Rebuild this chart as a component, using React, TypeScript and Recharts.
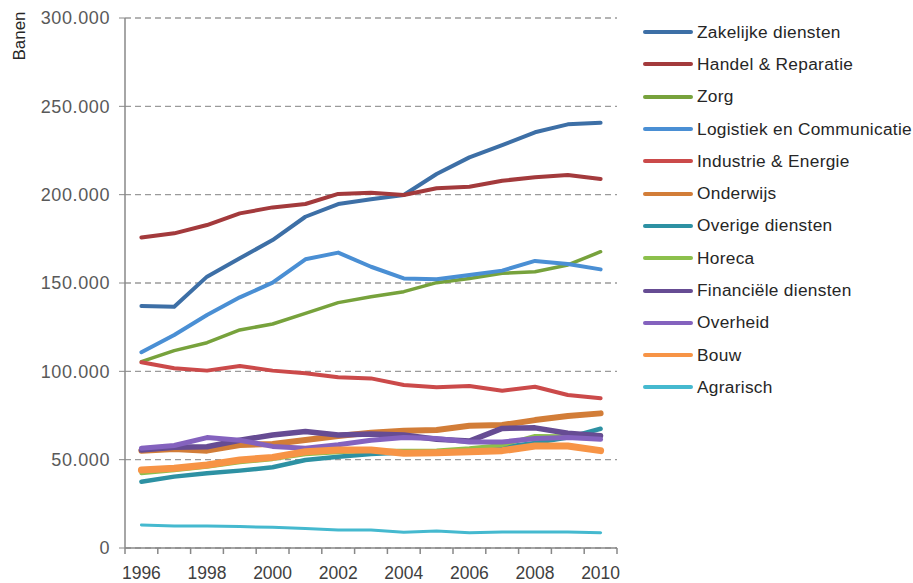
import { LineChart, Line, XAxis, YAxis, CartesianGrid } from 'recharts'

const years = [1996, 1997, 1998, 1999, 2000, 2001, 2002, 2003, 2004, 2005, 2006, 2007, 2008, 2009, 2010]

const zakelijke = [137000, 136600, 153600, 164000, 174300, 187500, 194700, 197400, 199800, 211700, 221100, 228000, 235300, 239800, 240700]
const handel = [175800, 178100, 182800, 189400, 192800, 194700, 200400, 201100, 199800, 203600, 204500, 207900, 209800, 211100, 208900]
const zorg = [105500, 111700, 116200, 123400, 126800, 132800, 138900, 142200, 145100, 150200, 152600, 155500, 156400, 160200, 167700]
const logistiek = [110800, 120600, 131900, 141900, 150200, 163400, 167200, 159200, 152600, 152100, 154500, 157000, 162500, 160800, 157700]
const industrie = [105100, 101700, 100400, 103000, 100400, 98900, 96600, 96000, 92300, 91000, 91700, 89000, 91300, 86600, 84700]
const onderwijs = [55100, 56000, 55100, 58300, 58900, 61100, 63400, 65300, 66400, 66800, 69200, 69600, 72400, 74700, 76200]
const overige = [37500, 40400, 42300, 43800, 45700, 49800, 51700, 53200, 54000, 54500, 55500, 57000, 59500, 62500, 67500]
const horeca = [42300, 44000, 46000, 48500, 50300, 53000, 54200, 55000, 55000, 55200, 56400, 58300, 63400, 63200, 64000]
const financiele = [55500, 57000, 57300, 61000, 64000, 66000, 64000, 64500, 64000, 61500, 60500, 67700, 68000, 65000, 63500]
const overheid = [56500, 58000, 62500, 61000, 57500, 56500, 58500, 61000, 62500, 62000, 60000, 60000, 62000, 62500, 61500]
const bouw = [44100, 45100, 47000, 49800, 51300, 54500, 55500, 55500, 53600, 53900, 54500, 55100, 57700, 57700, 55100]
const agrarisch = [13000, 12500, 12500, 12100, 11700, 11100, 10200, 10200, 8900, 9600, 8700, 9000, 9000, 9000, 8700]

const yTicks = [0, 50000, 100000, 150000, 200000, 250000, 300000]
const xLabelYears = [1996, 1998, 2000, 2002, 2004, 2006, 2008, 2010]

const series = [
  { key: 'zakelijke', name: 'Zakelijke diensten', values: zakelijke, color: '#3d6fa6', width: 4 },
  { key: 'handel', name: 'Handel & Reparatie', values: handel, color: '#a33a3c', width: 4 },
  { key: 'zorg', name: 'Zorg', values: zorg, color: '#77a23c', width: 3.5 },
  { key: 'logistiek', name: 'Logistiek en Communicatie', values: logistiek, color: '#4a8fd4', width: 4 },
  { key: 'industrie', name: 'Industrie & Energie', values: industrie, color: '#cb4a4a', width: 4 },
  { key: 'onderwijs', name: 'Onderwijs', values: onderwijs, color: '#d27d38', width: 6 },
  { key: 'overige', name: 'Overige diensten', values: overige, color: '#2d91a3', width: 4.5 },
  { key: 'horeca', name: 'Horeca', values: horeca, color: '#8cc04c', width: 4 },
  { key: 'financiele', name: 'Financiële diensten', values: financiele, color: '#664c93', width: 5.5 },
  { key: 'overheid', name: 'Overheid', values: overheid, color: '#8462be', width: 5 },
  { key: 'bouw', name: 'Bouw', values: bouw, color: '#f79446', width: 7 },
  { key: 'agrarisch', name: 'Agrarisch', values: agrarisch, color: '#45b9cf', width: 3 },
]

const data = years.map((year, i) => {
  const row: Record<string, number> = { year }
  series.forEach((s) => {
    row[s.key] = s.values[i]
  })
  return row
})

// tick marks sit between the years, labels on every other year
const xTicks: number[] = []
years.forEach((y) => {
  xTicks.push(y - 0.5)
  if (xLabelYears.includes(y)) xTicks.push(y)
})
xTicks.push(2010.5)

const FONT = '"Liberation Sans", Arial, sans-serif'

function formatThousands(v: number) {
  return String(v).replace(/\B(?=(\d{3})+(?!\d))/g, '.')
}

function XTick(props: any) {
  const { x, y, payload } = props
  const v = payload.value as number
  if (v % 1 !== 0) {
    return <line x1={x} x2={x} y1={y} y2={y + 6} stroke="#888" strokeWidth={1.5} />
  }
  return (
    <text x={x} y={y + 31} textAnchor="middle" fontSize={17.5} fontFamily={FONT} fill="#404040">
      {v}
    </text>
  )
}

function LegendList() {
  return (
    <div
      style={{
        position: 'absolute',
        left: 643,
        top: 16,
        fontFamily: FONT,
        fontSize: 17.3,
        letterSpacing: 0.3,
        color: '#262626',
      }}
    >
      {series.map((s) => (
        <div key={s.key} style={{ display: 'flex', alignItems: 'center', height: 32.3 }}>
          <svg width={50} height={8} style={{ marginRight: 4 }}>
            <line x1={2} x2={48} y1={4} y2={4} stroke={s.color} strokeWidth={4} strokeLinecap="round" />
          </svg>
          <span>{s.name}</span>
        </div>
      ))}
    </div>
  )
}

export default function App() {
  return (
    <div style={{ position: 'absolute', left: 0, top: 0, width: 913, height: 583, background: '#fff' }}>
      <div
        style={{
          position: 'absolute',
          left: 20,
          top: 36,
          transform: 'translate(-50%, -50%) rotate(-90deg)',
          fontFamily: FONT,
          fontSize: 17,
          color: '#262626',
          whiteSpace: 'nowrap',
        }}
      >
        Banen
      </div>
      <LineChart width={913} height={583} data={data} margin={{ top: 18, right: 296, bottom: 0, left: 0 }}>
        <CartesianGrid vertical={false} stroke="#9a9a9a" strokeDasharray="6 4" strokeWidth={1.3} />
        <XAxis
          dataKey="year"
          type="number"
          domain={[1995.5, 2010.5]}
          ticks={xTicks}
          interval={0}
          tick={<XTick />}
          tickLine={false}
          tickSize={0}
          tickMargin={0}
          axisLine={{ stroke: '#888', strokeWidth: 1.5 }}
          height={35}
        />
        <YAxis
          domain={[0, 300000]}
          ticks={yTicks}
          interval={0}
          width={125}
          tickFormatter={formatThousands}
          tick={{ fontSize: 18, fill: '#595959', fontFamily: FONT, letterSpacing: 0.6 }}
          tickSize={6}
          tickMargin={9}
          tickLine={{ stroke: '#888' }}
          axisLine={{ stroke: '#888', strokeWidth: 1.5 }}
        />
        {series.map((s) => (
          <Line
            key={s.key}
            type="linear"
            dataKey={s.key}
            name={s.name}
            stroke={s.color}
            strokeWidth={s.width}
            strokeLinejoin="round"
            strokeLinecap="round"
            dot={false}
            activeDot={false}
            isAnimationActive={false}
          />
        ))}
      </LineChart>
      <LegendList />
    </div>
  )
}
